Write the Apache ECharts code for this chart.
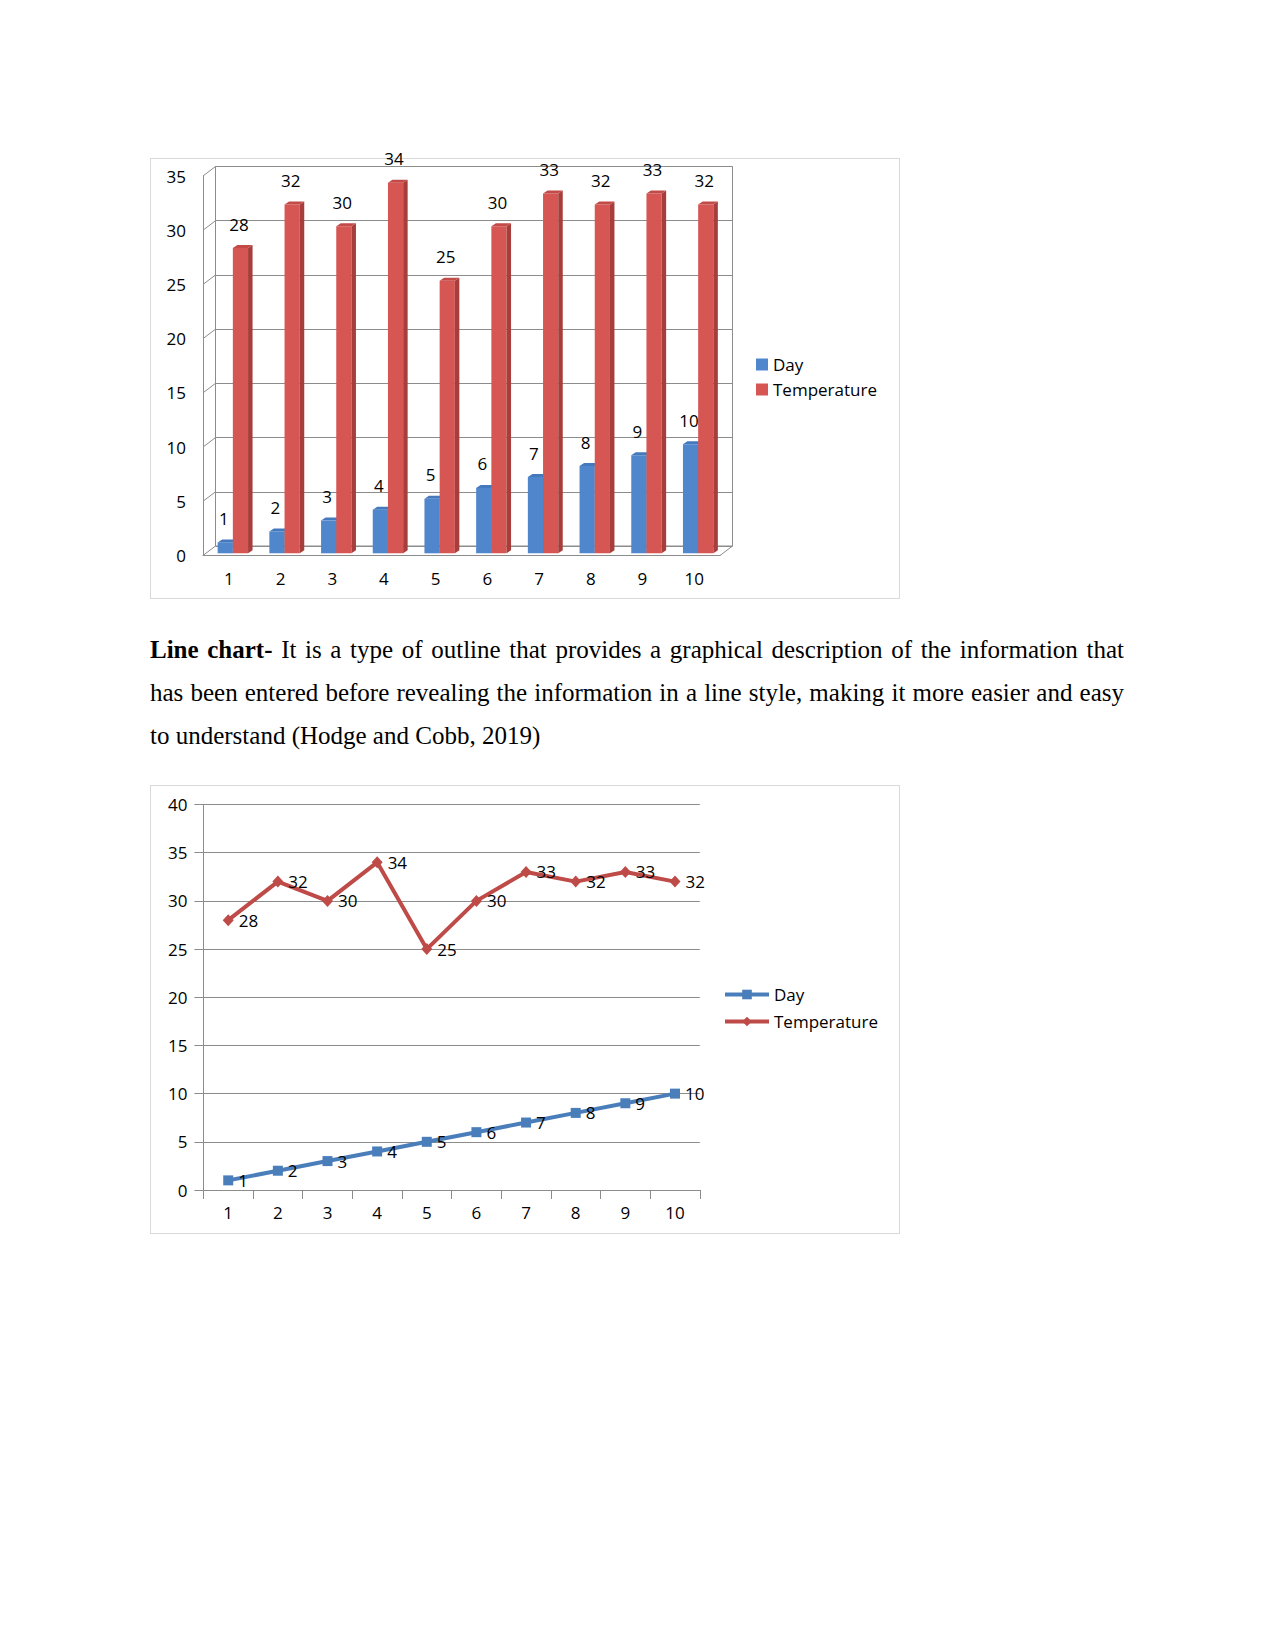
<!DOCTYPE html>
<html><head><meta charset="utf-8">
<script src="https://cdn.jsdelivr.net/npm/echarts@6/dist/echarts.min.js"></script>
<style>
html,body{margin:0;padding:0;background:#fff;}
body{width:1275px;height:1650px;position:relative;overflow:hidden;}
.box{position:absolute;border:1.5px solid #d9d9d9;box-sizing:border-box;}
#b1{left:150px;top:158px;width:750px;height:441px;}
#c1{position:absolute;left:150px;top:128px;width:750px;height:471px;}
#c2{left:150px;top:785px;width:750px;height:449px;}
.para{position:absolute;left:150px;top:0;width:974px;font-family:'Liberation Serif','Times New Roman',serif;font-size:25px;color:#000;}
.line{position:absolute;left:0;width:974px;height:30px;line-height:30px;white-space:nowrap;text-align:justify;text-align-last:justify;}
.line.last{text-align:left;text-align-last:left;}
</style>
</head>
<body>
<div id="b1" class="box"></div>
<div id="c1"></div>
<div class="para">
  <div class="line" style="top:635px"><b>Line chart-</b> It is a type of outline that provides a graphical description of the information that</div>
  <div class="line" style="top:678px">has been entered before revealing the information in a line style, making it more easier and easy</div>
  <div class="line last" style="top:721px">to understand (Hodge and Cobb, 2019)</div>
</div>
<div id="c2" class="box"></div>
<script>
// ---------- data ----------
var categories = ['1','2','3','4','5','6','7','8','9','10'];
var dayValues = [1,2,3,4,5,6,7,8,9,10];
var tempValues = [28,32,30,34,25,30,33,32,33,32];
var barAxisTicks = [0,5,10,15,20,25,30,35];
var seriesNames = ['Day','Temperature'];

// ---------- chart 1: 3D-like column chart ----------
var OFF = 30; // chart canvas starts 30px above the frame so labels may overflow it
var FRONT = {left:53, top:18+OFF, width:517, height:379.5};
var DEPTH = {dx:12.5, dy:-9.5};
var BARS = {left:57, top:13.8+OFF, width:517, height:381.5};
var FACE = {dx:4.5, dy:-3, frac:0.294};
var LINE_C = '#8c8c8c';
var FONT = '"Open Sans", "Liberation Sans", sans-serif';

var blueC = {front:'#5087cc', side:'#3c6aa6', top:'#4579bd'};
var redC = {front:'#d65654', side:'#a83e3b', top:'#c24a47'};

function barRender(isLeft, c){
  return function(params, api){
    var cat = api.value(0), val = api.value(1);
    var base = api.coord([cat, 0]);
    var top = api.coord([cat, val]);
    var band = api.size([1, 0])[0];
    var w = band * FACE.frac;
    var x0 = isLeft ? base[0] - w : base[0];
    var yt = top[1], yb = base[1];
    return {type:'group', children:[
      {type:'rect', shape:{x:x0, y:yt, width:w, height:yb-yt}, style:{fill:c.front}},
      {type:'polygon', shape:{points:[[x0+w,yt],[x0+w+FACE.dx,yt+FACE.dy],[x0+w+FACE.dx,yb+FACE.dy],[x0+w,yb]]}, style:{fill:c.side}},
      {type:'polygon', shape:{points:[[x0,yt],[x0+FACE.dx,yt+FACE.dy],[x0+w+FACE.dx,yt+FACE.dy],[x0+w,yt]]}, style:{fill:c.top}}
    ]};
  };
}

function labelRender(params, api){
  var cat = api.value(0);
  var band = api.size([1, 0])[0];
  var w = band * FACE.frac;
  var base = api.coord([cat, 0]);
  var children = [];
  [1,2].forEach(function(d){
    var v = api.value(d);
    var p = api.coord([cat, v]);
    var cx = d === 1 ? base[0] - w/2 - 1.5 : base[0] + w/2 - 1.5;
    children.push({type:'text', style:{text:String(v), x:cx, y:p[1]-24, align:'center', verticalAlign:'middle', fill:'#000', font:'17px ' + FONT}});
  });
  return {type:'group', children:children};
}

function wallRender(params, api){
  var cs = params.coordSys;
  var v = api.value(1);
  var y = api.coord([0, v])[1];
  var st = {stroke:LINE_C, lineWidth:1};
  var ch = [{type:'line', shape:{x1:cs.x, y1:y, x2:cs.x+DEPTH.dx, y2:y+DEPTH.dy}, style:st}];
  if (v === 0) ch.push({type:'line', shape:{x1:cs.x+cs.width, y1:y, x2:cs.x+cs.width+DEPTH.dx, y2:y+DEPTH.dy}, style:st});
  return {type:'group', children:ch};
}

var c1 = echarts.init(document.getElementById('c1'), null, {renderer:'svg'});
c1.setOption({
  animation:false,
  textStyle:{fontFamily:FONT},
  legend:{data:seriesNames, orient:'vertical', left:601, top:192+OFF, icon:'rect', itemWidth:12, itemHeight:12, itemGap:6,
    textStyle:{fontSize:17, color:'#000', fontFamily:FONT, lineHeight:19}},
  grid:[
    {left:FRONT.left, top:FRONT.top, width:FRONT.width, height:FRONT.height},
    {left:FRONT.left+DEPTH.dx, top:FRONT.top+DEPTH.dy, width:FRONT.width, height:FRONT.height, show:true, borderColor:LINE_C, borderWidth:1, backgroundColor:'transparent'},
    {left:BARS.left, top:BARS.top, width:BARS.width, height:BARS.height}
  ],
  xAxis:[
    {type:'category', gridIndex:0, data:categories, axisLine:{show:true, lineStyle:{color:LINE_C}}, axisTick:{show:false},
      axisLabel:{margin:14, fontSize:17, color:'#000', fontFamily:FONT}},
    {type:'category', gridIndex:1, data:categories, show:false},
    {type:'category', gridIndex:2, data:categories, show:false}
  ],
  yAxis:[
    {type:'value', gridIndex:0, min:0, max:35, interval:5, axisLine:{show:true, lineStyle:{color:LINE_C}}, axisTick:{show:false}, splitLine:{show:false},
      axisLabel:{margin:17, fontSize:17, color:'#000', fontFamily:FONT}},
    {type:'value', gridIndex:1, min:0, max:35, interval:5, axisLine:{show:false}, axisTick:{show:false}, axisLabel:{show:false},
      splitLine:{show:true, lineStyle:{color:LINE_C, width:1}}},
    {type:'value', gridIndex:2, min:0, max:35, interval:5, show:false, splitLine:{show:false}}
  ],
  series:[
    {type:'custom', name:'walls', xAxisIndex:0, yAxisIndex:0, clip:false, silent:true, z:1,
      data:barAxisTicks.map(function(v){return [0, v];}), renderItem:wallRender},
    {type:'custom', name:'Day', xAxisIndex:2, yAxisIndex:2, clip:false, z:2, itemStyle:{color:blueC.front},
      data:dayValues.map(function(v,i){return [i, v];}), renderItem:barRender(true, blueC)},
    {type:'custom', name:'Temperature', xAxisIndex:2, yAxisIndex:2, clip:false, z:2, itemStyle:{color:redC.front},
      data:tempValues.map(function(v,i){return [i, v];}), renderItem:barRender(false, redC)},
    {type:'custom', name:'labels', xAxisIndex:2, yAxisIndex:2, clip:false, z:5, silent:true,
      data:dayValues.map(function(v,i){return [i, v, tempValues[i]];}), renderItem:labelRender}
  ]
});

// ---------- chart 2: line chart ----------
var c2 = echarts.init(document.getElementById('c2'), null, {renderer:'svg'});
var lblStyle = {show:true, position:'right', distance:5, fontSize:17, color:'#000', fontFamily:FONT};
c2.setOption({
  animation:false,
  textStyle:{fontFamily:FONT},
  legend:{data:seriesNames, orient:'vertical', left:567, top:194, itemWidth:44, itemHeight:12, itemGap:8,
    lineStyle:{width:4}, itemStyle:{borderWidth:0},
    textStyle:{fontSize:17, color:'#000', fontFamily:FONT, lineHeight:19}},
  grid:{left:52.4, top:18.5, width:496.4, height:385.5},
  xAxis:{type:'category', data:categories, boundaryGap:true,
    axisLine:{show:true, lineStyle:{color:LINE_C}}, axisTick:{show:true, length:9, lineStyle:{color:LINE_C}},
    axisLabel:{margin:14, fontSize:17, color:'#000', fontFamily:FONT}},
  yAxis:{type:'value', min:0, max:40, interval:5,
    axisLine:{show:true, lineStyle:{color:LINE_C}}, axisTick:{show:true, length:9, lineStyle:{color:LINE_C}},
    splitLine:{show:true, lineStyle:{color:LINE_C, width:1}},
    axisLabel:{margin:16, fontSize:17, color:'#000', fontFamily:FONT}},
  series:[
    {type:'line', name:'Day', data:dayValues, symbol:'rect', symbolSize:10, showAllSymbol:true,
      lineStyle:{width:4, color:'#4a7ebb'}, itemStyle:{color:'#4a7ebb'}, label:lblStyle},
    {type:'line', name:'Temperature', data:tempValues, symbol:'diamond', symbolSize:[11,12], showAllSymbol:true,
      lineStyle:{width:4, color:'#be4b48'}, itemStyle:{color:'#be4b48'}, label:lblStyle}
  ]
});
</script>
</body></html>
